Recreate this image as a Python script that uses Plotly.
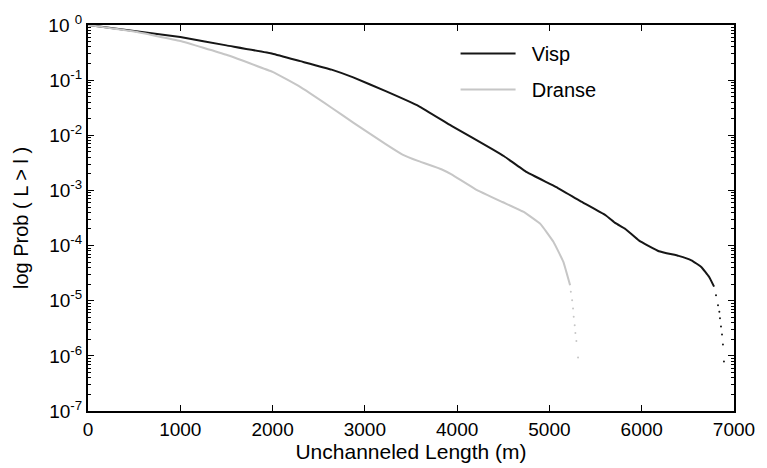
import plotly.graph_objects as go

# Exceedance probability P(L > l) of unchanneled length, two catchments
visp_len = [0, 500, 1000, 1500, 2000, 2300, 2639, 2874, 3226, 3583, 3939, 4380, 4509,
            4754, 5075, 5331, 5609, 5716, 5823, 5972, 6186, 6400, 6538, 6645, 6731, 6784]
visp_prob = [1.0, 0.776, 0.603, 0.427, 0.302, 0.221, 0.155, 0.112, 0.0631, 0.0339, 0.0148,
             0.00562, 0.00417, 0.00214, 0.00115, 6.46e-4, 3.55e-4, 2.55e-4, 2.0e-4, 1.23e-4,
             7.9e-5, 6.5e-5, 5.4e-5, 4.1e-5, 2.7e-5, 1.8e-5]
visp_tail_len = [6805, 6827, 6841, 6848, 6859, 6870, 6880, 6891]
visp_tail_prob = [1.26e-5, 8.3e-6, 6.3e-6, 4.8e-6, 3.4e-6, 2.45e-6, 1.6e-6, 7.9e-7]

dranse_len = [0, 500, 1000, 1500, 2000, 2286, 2639, 2874, 3226, 3408, 3583, 3835, 3939,
              4200, 4490, 4722, 4904, 5043, 5150, 5224]
dranse_prob = [1.0, 0.759, 0.513, 0.288, 0.141, 0.0776, 0.0316, 0.0170, 0.00692, 0.00447,
               0.00339, 0.00240, 0.00195, 0.00105, 6.17e-4, 4.07e-4, 2.45e-4, 1.17e-4,
               5.1e-5, 1.9e-5]
dranse_tail_len = [5232, 5246, 5256, 5263, 5274, 5281, 5292, 5310]
dranse_tail_prob = [1.45e-5, 1.02e-5, 7.2e-6, 5.1e-6, 3.6e-6, 2.6e-6, 1.86e-6, 9.3e-7]

x_ticks = [0, 1000, 2000, 3000, 4000, 5000, 6000, 7000]
y_tick_vals = [1e0, 1e-1, 1e-2, 1e-3, 1e-4, 1e-5, 1e-6, 1e-7]
y_tick_text = ["10 <sup>0</sup>", "10<sup>-1</sup>", "10<sup>-2</sup>", "10<sup>-3</sup>",
               "10<sup>-4</sup>", "10<sup>-5</sup>", "10<sup>-6</sup>", "10<sup>-7</sup>"]
# minor ticks at 2..9 within each decade
y_minor_vals = [m * d for d in y_tick_vals[1:] for m in range(2, 10)]

BLACK = "#161616"
GREY = "#c6c6c6"
FONT = "Liberation Sans, Arial, sans-serif"

fig = go.Figure()
fig.add_trace(go.Scatter(x=visp_len, y=visp_prob, mode="lines", name="\u00a0\u00a0Visp",
                         line=dict(color=BLACK, width=2, shape="spline", smoothing=0.3),
                         legendgroup="a"))
fig.add_trace(go.Scatter(x=visp_tail_len, y=visp_tail_prob, mode="markers", showlegend=False,
                         marker=dict(color=BLACK, size=2)))
fig.add_trace(go.Scatter(x=dranse_len, y=dranse_prob, mode="lines", name="\u00a0\u00a0Dranse",
                         line=dict(color=GREY, width=2, shape="spline", smoothing=0.3),
                         legendgroup="b"))
fig.add_trace(go.Scatter(x=dranse_tail_len, y=dranse_tail_prob, mode="markers", showlegend=False,
                         marker=dict(color=GREY, size=2)))
# invisible carrier for the minor-tick axis
fig.add_trace(go.Scatter(x=[0], y=[1], yaxis="y2", mode="markers", showlegend=False,
                         marker=dict(opacity=0), hoverinfo="skip"))

fig.update_layout(
    width=767, height=468,
    margin=dict(l=88, r=24, t=25, b=55),
    paper_bgcolor="white", plot_bgcolor="white",
    font=dict(family=FONT, size=19, color="black"),
    legend=dict(x=0.569, y=0.977, xanchor="left", yanchor="top", bgcolor="rgba(0,0,0,0)",
                font=dict(family=FONT, size=20), itemwidth=55, tracegroupgap=7),
    xaxis=dict(range=[0, 7000], tickvals=x_ticks, ticks="inside", ticklen=6, tickwidth=1,
               tickcolor="black", showline=True, linecolor="black", linewidth=2,
               mirror="ticks", showgrid=False, zeroline=False,
               title=dict(text="Unchanneled Length (m)", standoff=2, font=dict(size=21)),
               tickfont=dict(size=19)),
    yaxis=dict(type="log", range=[-7, 0], tickvals=y_tick_vals, ticktext=y_tick_text,
               ticks="inside", ticklen=6, tickwidth=1, tickcolor="black",
               showline=True, linecolor="black", linewidth=2, mirror="ticks",
               showgrid=False, zeroline=False,
               title=dict(text="log Prob ( L > l )", standoff=14, font=dict(size=20)),
               tickfont=dict(size=19)),
    yaxis2=dict(type="log", range=[-7, 0], overlaying="y", side="left",
                tickvals=y_minor_vals, showticklabels=False, ticks="inside", ticklen=3,
                tickwidth=1, tickcolor="black", mirror="ticks", showline=False,
                showgrid=False, zeroline=False),
)

fig.write_html("out.html")
